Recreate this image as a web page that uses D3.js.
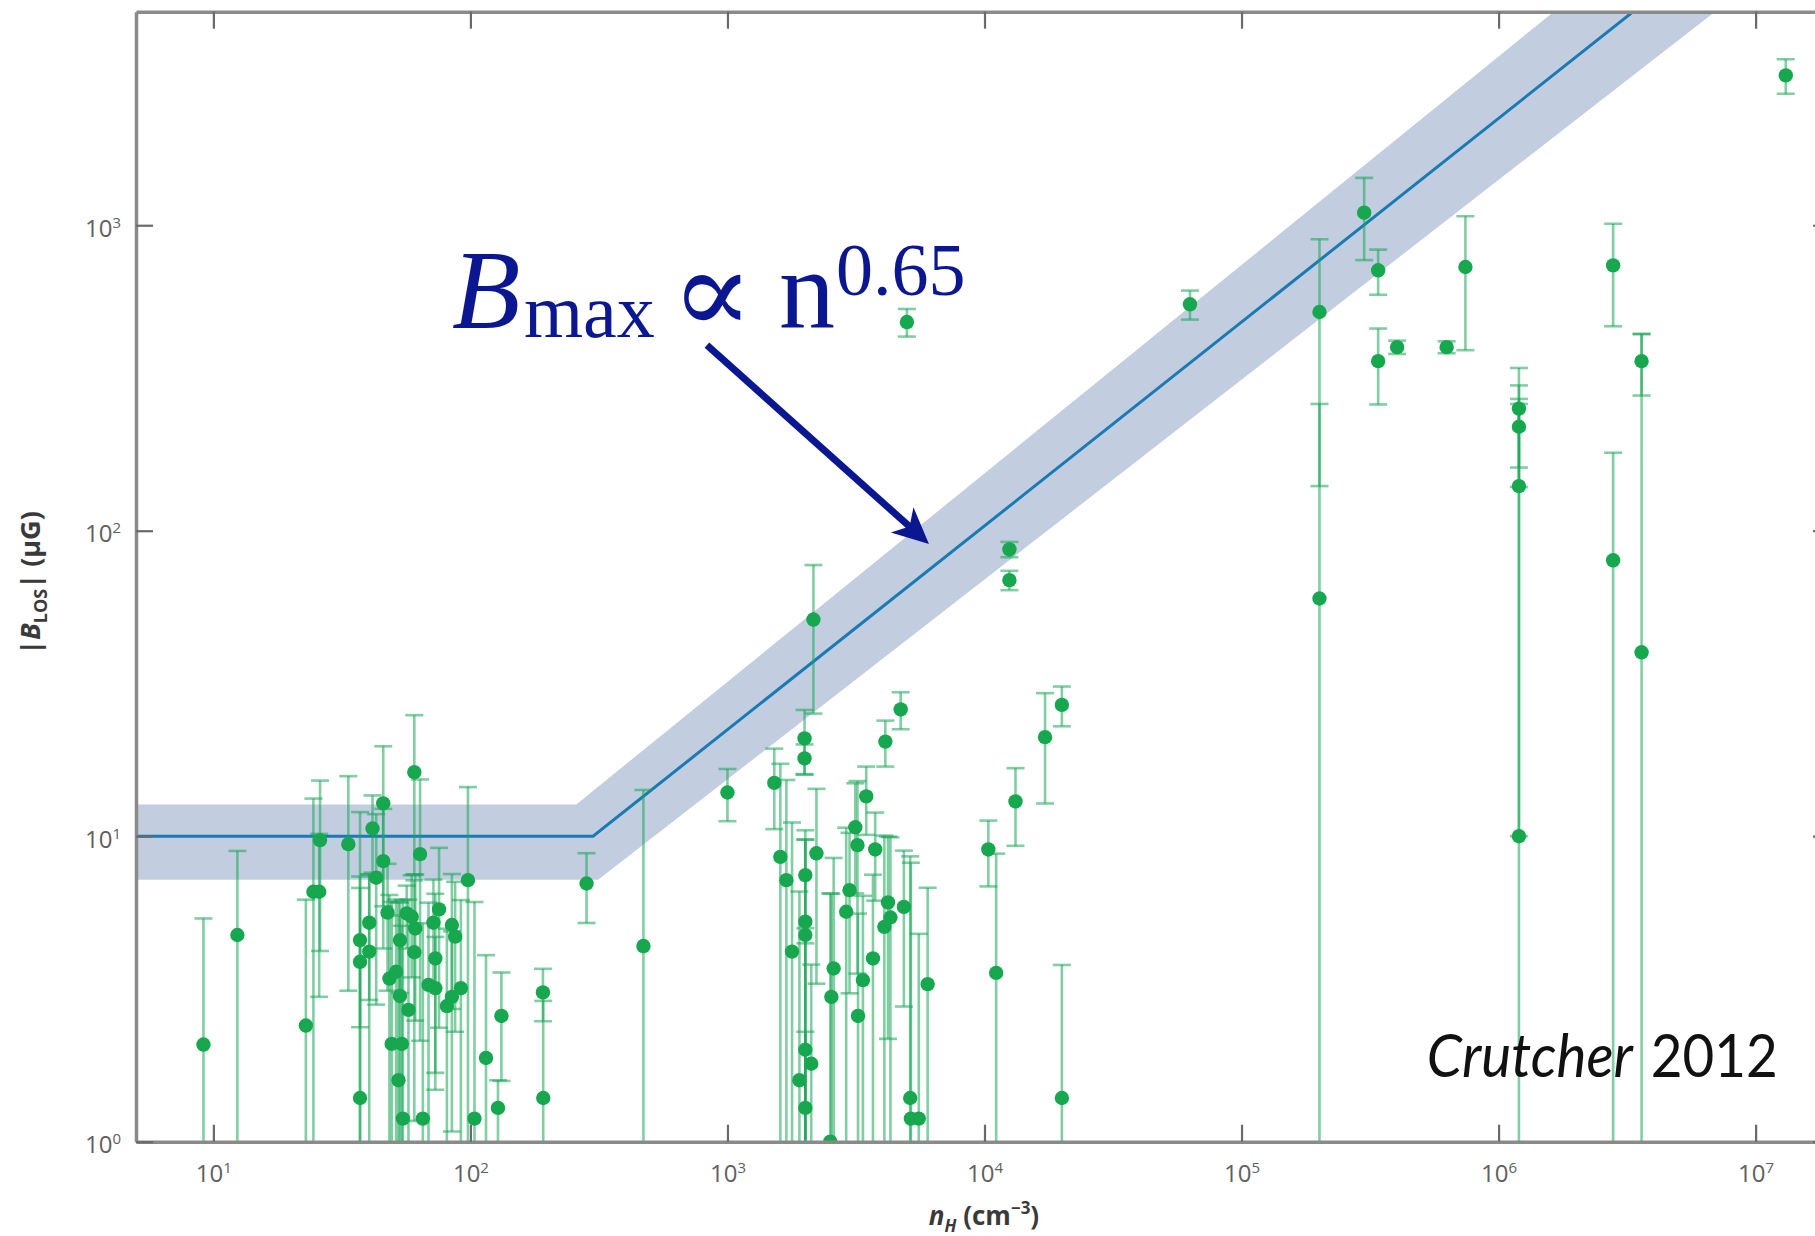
<!DOCTYPE html>
<html><head><meta charset="utf-8">
<script src="https://cdn.jsdelivr.net/npm/d3@7"></script>
<style>html,body{margin:0;padding:0;background:#fff;} svg{display:block}</style>
</head><body>
<svg id="chart" width="1815" height="1236"></svg>
<script>
// ---------- data ----------
const xTickVals = [1e1, 1e2, 1e3, 1e4, 1e5, 1e6, 1e7];
const xTickExps = ["1", "2", "3", "4", "5", "6", "7"];
const yTickVals = [1, 10, 100, 1000];
const yTickExps = ["0", "1", "2", "3"];

// density n_H (cm^-3)
const nH = [
  9.15, 12.4, 22.9, 24.5, 25.8, 26.0, 33.5, 37.2, 37.2, 37.2, 40.4, 40.4, 41.6, 43.0, 45.8, 45.8,
  47.6, 48.4, 51.4, 53.2, 49.4, 54.1, 52.5, 54.6, 53.2, 57.4, 56.5, 59.1, 61.0, 60.5, 60.5, 63.7,
  65.3, 71.8, 75.5, 73.0, 68.7, 73.0, 84.7, 87.2, 81.0, 84.7, 91.8, 97.8, 103.7, 115, 128, 132,
  191.5, 192, 283, 471,
  1000, 1521, 1606, 1695, 1783, 1995, 1995, 2009, 2009, 2009, 2009, 2118, 1905, 2009, 2160, 2219,
  2589, 2536, 2512, 2897, 2985, 3221, 3143, 3205, 3466, 3365, 3757, 3682, 4213, 4306, 4077, 4857,
  5140, 5170, 5550, 6010, 4114, 4720, 4990,
  10350, 11100, 12500, 12500, 13200, 17200, 20000, 20000, 63000,
  2.01e5, 2.01e5, 3.0e5, 3.4e5, 3.4e5, 4.03e5, 6.28e5, 7.43e5,
  1.2e6, 1.2e6, 1.2e6, 1.2e6, 2.79e6, 2.79e6, 3.6e6, 3.6e6, 1.31e7
];
// |B_LOS| (microgauss)
const bLOS = [
  2.08, 4.75, 2.40, 6.58, 6.58, 9.71, 9.42, 1.39, 4.57, 3.88, 5.21, 4.19, 10.6, 7.31, 12.8, 8.29,
  5.62, 3.42, 3.60, 3.00, 2.09, 2.09, 1.59, 1.19, 4.57, 2.70, 5.59, 5.45, 4.99, 4.17, 16.2, 8.74,
  1.19, 5.21, 5.76, 3.98, 3.26, 3.18, 5.12, 4.69, 2.78, 2.98, 3.18, 7.18, 1.19, 1.88, 1.29, 2.58,
  3.08, 1.39, 7.0, 4.37,
  13.9, 14.95, 8.56, 7.18, 4.19, 20.9, 17.97, 7.46, 5.25, 4.75, 2.0, 1.80, 1.59, 1.29, 51.2, 8.79,
  3.69, 2.98, 1.0, 5.66, 6.66, 2.58, 10.7, 9.35, 13.5, 3.38, 9.05, 3.98, 6.07, 5.42, 5.05, 5.87,
  1.39, 1.19, 1.19, 3.28, 20.4, 26.0, 482,
  9.05, 3.57, 86.9, 68.9, 13.0, 21.1, 26.9, 1.39, 551,
  520, 60, 1099, 712, 359, 399, 399, 730,
  251, 219, 140, 10, 739, 80, 359, 40, 3093
];
// 1-sigma uncertainty (microgauss)
const bErr = [
  3.3, 4.2, 3.8, 6.7, 3.6, 5.5, 6.3, 10.6, 2.2, 3.5, 2.3, 3.3, 3.0, 4.5, 6.9, 4.0,
  2.5, 3.0, 2.6, 2.5, 4.0, 3.0, 4.5, 5.0, 1.5, 3.5, 1.3, 2.0, 2.5, 3.0, 8.7, 6.6,
  4.0, 2.0, 3.4, 2.5, 2.8, 1.5, 2.4, 2.4, 2.2, 1.9, 3.0, 7.3, 4.9, 2.2, 0.3, 1.0,
  0.6, 1.5, 1.8, 9.8,
  2.7, 4.4, 8.7, 8.1, 6.9, 5.0, 2.0, 3.0, 4.5, 5.0, 3.0, 2.0, 5.0, 1.0, 26, 5.5,
  4.8, 3.5, 5.5, 5.0, 3.6, 3.0, 4.2, 5.8, 3.4, 3.0, 2.9, 3.5, 3.9, 4.5, 5.0, 3.1,
  7.2, 7.0, 3.6, 3.5, 3.5, 3.6, 50,
  2.2, 5.2, 5, 5, 3.7, 8.3, 4, 2.4, 60,
  380, 200, 330, 120, 100, 20, 18, 340,
  90, 80, 130, 250, 272, 100, 82, 400, 400
];

// maximum-field model line and its shaded band
const fitN = [5, 300, 1.0e7];
const fitB = [10, 10, 10400];
const bandUpperN = [5, 258, 1.64e6];
const bandUpperB = [12.7, 12.7, 5000];
const bandLowerN = [5, 314, 6.95e6];
const bandLowerB = [7.2, 7.2, 5000];

// annotation anchors (data coordinates)
const arrowFrom = [832, 405];
const arrowTo = [6080, 90.5];
const labelAt = [84.7, 461];
const creditAt = [5.26e5, 1.63];

// ---------- layout ----------
const svg = d3.select("#chart");
const x = d3.scaleLog().domain([5, 2e7]).range([136, 1833]);
const y = d3.scaleLog().domain([1, 5000]).range([1141.7, 11.7]);
const [xl, xr] = x.range();
const [yb, yt] = y.range();

svg.append("defs").append("clipPath").attr("id", "plotclip")
  .append("rect").attr("x", xl).attr("y", yt).attr("width", xr - xl).attr("height", yb - yt);

const plot = svg.append("g").attr("clip-path", "url(#plotclip)");

// band
const upper = bandUpperN.map((n, i) => [x(n), y(bandUpperB[i])]);
const lower = bandLowerN.map((n, i) => [x(n), y(bandLowerB[i])]);
const bandPts = upper.concat(lower.slice().reverse());
plot.append("path")
  .attr("d", d3.line()(bandPts) + "Z")
  .attr("fill", "#c2cee0");

// fit line
plot.append("path")
  .attr("d", d3.line().x(d => x(d[0])).y(d => y(d[1]))(fitN.map((n, i) => [n, fitB[i]])))
  .attr("fill", "none").attr("stroke", "#1a7ab4").attr("stroke-width", 3);

// error bars
const pts = nH.map((n, i) => ({ n, b: bLOS[i], e: bErr[i] }));
const eg = plot.append("g").attr("stroke", "#1aa557").attr("stroke-opacity", 0.55)
  .attr("stroke-width", 2.6).attr("fill", "none");
const cap = 9;
pts.forEach(p => {
  const cx = x(p.n);
  const lo = p.b - p.e, hi = p.b + p.e;
  const yLo = lo > 1 ? y(lo) : yb + 5;
  const yHi = hi < 5000 ? y(hi) : yt - 5;
  eg.append("line").attr("x1", cx).attr("x2", cx).attr("y1", yLo).attr("y2", yHi);
  if (lo > 1) eg.append("line").attr("x1", cx - cap).attr("x2", cx + cap).attr("y1", yLo).attr("y2", yLo);
  if (hi < 5000) eg.append("line").attr("x1", cx - cap).attr("x2", cx + cap).attr("y1", yHi).attr("y2", yHi);
});

// points
plot.append("g").selectAll("circle").data(pts).join("circle")
  .attr("cx", d => x(d.n)).attr("cy", d => y(d.b)).attr("r", 7.2)
  .attr("fill", "#17a84f");

// ---------- axes ----------
const axisColor = "#8a8a8a";
function styleAxis(g) {
  g.select(".domain").attr("stroke", axisColor).attr("stroke-width", 3.5);
  g.selectAll(".tick line").attr("stroke", "#6a6a6a").attr("stroke-width", 2.2);
}
function supLabels(g, exps) {
  g.selectAll(".tick text").each(function (d, i) {
    const t = d3.select(this).text(null);
    t.append("tspan").text("10");
    t.append("tspan").attr("dy", -9).attr("font-size", 15).text(exps[i]);
  });
}

const gB = svg.append("g").attr("transform", `translate(0,${yb})`)
  .call(d3.axisBottom(x).tickValues(xTickVals).tickSizeInner(-17).tickSizeOuter(0).tickPadding(23).tickFormat(() => "x"));
styleAxis(gB);
gB.selectAll(".tick text").attr("font-family", "'Open Sans', sans-serif").attr("font-size", 24)
  .attr("fill", "#606060").attr("dy", "0.71em");
supLabels(gB, xTickExps);

const gT = svg.append("g").attr("transform", `translate(0,${yt})`)
  .call(d3.axisTop(x).tickValues(xTickVals).tickSizeInner(-17).tickSizeOuter(0).tickFormat(() => ""));
styleAxis(gT);

const gL = svg.append("g").attr("transform", `translate(${xl},0)`)
  .call(d3.axisLeft(y).tickValues(yTickVals).tickSizeInner(-17).tickSizeOuter(0).tickPadding(15).tickFormat(() => "x"));
styleAxis(gL);
gL.selectAll(".tick text").attr("font-family", "'Open Sans', sans-serif").attr("font-size", 24)
  .attr("fill", "#606060").attr("dy", "0.45em");
supLabels(gL, yTickExps);

const gR = svg.append("g").attr("transform", `translate(${xr},0)`)
  .call(d3.axisRight(y).tickValues(yTickVals).tickSizeInner(-20).tickSizeOuter(0).tickFormat(() => ""));
styleAxis(gR);

// axis titles
const yTitle = svg.append("text")
  .attr("transform", "translate(40,583) rotate(-90)")
  .attr("text-anchor", "middle")
  .attr("font-family", "'Open Sans', sans-serif").attr("font-weight", "bold")
  .attr("font-size", 27).attr("fill", "#3a3a3a");
yTitle.append("tspan").text("|");
yTitle.append("tspan").attr("font-style", "italic").text("B");
yTitle.append("tspan").attr("font-size", 18).attr("dy", 7).text("LOS");
yTitle.append("tspan").attr("dy", -7).text("| (μG)");

const xTitle = svg.append("text")
  .attr("x", 984).attr("y", 1225).attr("text-anchor", "middle")
  .attr("font-family", "'Open Sans', sans-serif").attr("font-weight", "bold")
  .attr("font-size", 26).attr("fill", "#3a3a3a");
xTitle.append("tspan").attr("font-style", "italic").text("n");
xTitle.append("tspan").attr("font-style", "italic").attr("font-size", 17).attr("dy", 7).text("H");
xTitle.append("tspan").attr("dy", -7).text(" (cm");
xTitle.append("tspan").attr("font-size", 17).attr("dy", -11).text("−3");
xTitle.append("tspan").attr("dy", 11).text(")");

// ---------- annotation ----------
const navy = "#0b1790";
const lx = x(labelAt[0]), ly = y(labelAt[1]);
const ann = svg.append("g").attr("fill", navy).attr("font-family", "'Liberation Serif', 'Times New Roman', serif");
ann.append("text").attr("x", lx).attr("y", ly).attr("font-size", 112).attr("font-style", "italic").text("B");
ann.append("text").attr("x", lx + 72).attr("y", ly + 9).attr("font-size", 76).text("max");
ann.append("g").attr("transform", `translate(${lx + 219},${ly + 5}) scale(1.45,1.41)`)
  .append("text").attr("x", 0).attr("y", 0).attr("font-size", 84)
  .attr("font-family", "'DejaVu Serif', serif").text("∝");
ann.append("text").attr("x", lx + 327).attr("y", ly).attr("font-size", 112).text("n");
ann.append("text").attr("x", lx + 384).attr("y", ly - 33).attr("font-size", 74).text("0.65");

// arrow
const ax0 = x(arrowFrom[0]), ay0 = y(arrowFrom[1]);
const ax1 = x(arrowTo[0]), ay1 = y(arrowTo[1]);
const dx = ax1 - ax0, dy = ay1 - ay0, L = Math.hypot(dx, dy);
const ux = dx / L, uy = dy / L, px = -uy, py = ux;
const headLen = 36, headHalf = 17, notch = 26;
svg.append("line")
  .attr("x1", ax0).attr("y1", ay0)
  .attr("x2", ax1 - ux * (notch - 2)).attr("y2", ay1 - uy * (notch - 2))
  .attr("stroke", navy).attr("stroke-width", 7);
const head = [
  [ax1, ay1],
  [ax1 - ux * headLen + px * headHalf, ay1 - uy * headLen + py * headHalf],
  [ax1 - ux * notch, ay1 - uy * notch],
  [ax1 - ux * headLen - px * headHalf, ay1 - uy * headLen - py * headHalf]
];
svg.append("path").attr("d", d3.line()(head) + "Z").attr("fill", navy);

// credit
const cx0 = x(creditAt[0]), cy0 = y(creditAt[1]);
svg.append("text").attr("x", cx0).attr("y", cy0)
  .attr("font-family", "Lato, 'Open Sans', sans-serif").attr("font-size", 60).attr("font-style", "italic")
  .attr("fill", "#111").attr("textLength", 206).attr("lengthAdjust", "spacingAndGlyphs").text("Crutcher");
svg.append("text").attr("x", cx0 + 224).attr("y", cy0)
  .attr("font-family", "Lato, 'Open Sans', sans-serif").attr("font-size", 60)
  .attr("fill", "#111").attr("textLength", 127).attr("lengthAdjust", "spacingAndGlyphs").text("2012");
</script>
</body></html>
